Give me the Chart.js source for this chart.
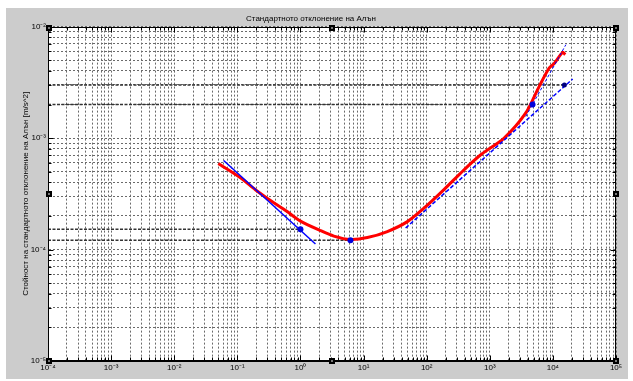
<!DOCTYPE html>
<html>
<head>
<meta charset="utf-8">
<title>Allan</title>
<script src="https://cdn.jsdelivr.net/npm/chart.js@4"></script>
<style>
  body { margin: 0; background: #fff; }
  #caja { position: absolute; left: 6px; top: 8px; width: 622px; height: 371px; background: #cccccc; }
</style>
</head>
<body>
<div id="caja"><canvas id="grafico" width="622" height="371"></canvas></div>
<script>
// datos: tau en segundos, sigma en m/s^2
const tauAllan = [0.05, 0.112, 0.193, 0.296, 0.615, 1.0, 2.07, 3.38, 6.2, 11.5, 23.8, 49.5, 90.6, 188, 391, 720, 1690, 3720, 6070, 8730, 10490, 14270, 15700];
const sigmaAllan = [5.9e-4, 4.4e-4, 3.44e-4, 2.89e-4, 2.19e-4, 1.8e-4, 1.48e-4, 1.32e-4, 1.23e-4, 1.28e-4, 1.45e-4, 1.78e-4, 2.35e-4, 3.45e-4, 5.19e-4, 7.08e-4, 1.0e-3, 1.68e-3, 2.91e-3, 4.25e-3, 4.66e-3, 5.87e-3, 5.6e-3];

// rectas de ajuste (pendiente -1/2, +1/2 y +1)
const tauArw = [0.0607, 1.73];
const sigmaArw = [6.29e-4, 1.12e-4];
const tauRaiz = [46.4, 20600];
const sigmaRaiz = [1.56e-4, 3.39e-3];
const tauRampa = [3720, 16070];
const sigmaRampa = [1.56e-3, 6.89e-3];

// puntos marcados y sus lineas horizontales
const tauPuntos = [1, 6.2, 4760, 15200];
const sigmaPuntos = [1.52e-4, 1.21e-4, 2e-3, 3e-3];
const colorPuntos = ["#0000dd", "#0000dd", "#0000dd", "#000080"];

const ejeXMin = 1e-4, ejeXMax = 1e5;
const ejeYMin = 1e-5, ejeYMax = 1e-2;
const titulo = "Стандартното отклонение на Алън";
const tituloY = "Стойност на стандартното отклонение на Алън [m/s^2]";

const fuente = "'Liberation Sans', Arial, sans-serif";

const unir = (xs, ys) => xs.map((x, i) => ({ x: x, y: ys[i] }));

const esPotencia = (v) => {
  const e = Math.log10(v);
  return Math.abs(e - Math.round(e)) < 1e-6;
};

// exponente como superindice: 10⁻⁴
const sup = { "-": "⁻", "0": "⁰", "1": "¹", "2": "²", "3": "³", "4": "⁴", "5": "⁵", "6": "⁶", "7": "⁷", "8": "⁸", "9": "⁹" };
const etiquetaPotencia = (v) => "10" + String(Math.round(Math.log10(v))).split("").map((c) => sup[c]).join("");

// todas las marcas 1..9 de cada decada
const ticksLog = (min, max) => {
  const lista = [];
  for (let e = Math.round(Math.log10(min)); e < Math.round(Math.log10(max)); e++) {
    for (let m = 1; m <= 9; m++) lista.push({ value: m * Math.pow(10, e) });
  }
  lista.push({ value: max });
  return lista;
};

const datasets = [
  {
    data: unir(tauAllan, sigmaAllan),
    showLine: true, borderColor: "#ff0000", borderWidth: 3, pointRadius: 0,
    tension: 0.25, order: 5,
  },
  {
    data: unir(tauArw, sigmaArw),
    showLine: true, borderColor: "#0000ff", borderWidth: 1.5, pointRadius: 0, order: 3,
  },
  {
    data: unir(tauRaiz, sigmaRaiz),
    showLine: true, borderColor: "#0000ff", borderWidth: 1.5, borderDash: [4, 2], pointRadius: 0, order: 3,
  },
  {
    data: unir(tauRampa, sigmaRampa),
    showLine: true, borderColor: "#0000ff", borderWidth: 1, borderDash: [3, 2], pointRadius: 0, order: 3,
  },
];

tauPuntos.forEach((t, i) => {
  datasets.push({
    data: [{ x: ejeXMin, y: sigmaPuntos[i] }, { x: t, y: sigmaPuntos[i] }],
    showLine: true, borderColor: "#333333", borderWidth: 1.5, borderDash: [3, 1.5], pointRadius: 0, order: 6,
  });
});

datasets.push({
  data: unir(tauPuntos, sigmaPuntos),
  showLine: false, pointRadius: [3, 3, 3, 2.5], pointBackgroundColor: colorPuntos,
  pointBorderColor: colorPuntos, pointBorderWidth: 0, order: 1,
});

// fondo blanco, caja, marcas hacia adentro y los cuadraditos de seleccion
const marco = {
  id: "marco",
  beforeDraw(chart) {
    const { ctx, chartArea: a } = chart;
    ctx.save();
    ctx.fillStyle = "#ffffff";
    ctx.fillRect(a.left, a.top, a.right - a.left, a.bottom - a.top);
    ctx.restore();
  },
  afterDraw(chart) {
    const { ctx, chartArea: a, scales } = chart;
    const L = Math.round(a.left) + 0.5, R = Math.round(a.right) - 0.5;
    const T = Math.round(a.top) + 0.5, B = Math.round(a.bottom) - 0.5;
    ctx.save();
    ctx.strokeStyle = "#000";
    ctx.lineWidth = 1;
    ctx.beginPath();
    scales.x.ticks.forEach((t) => {
      const px = Math.round(scales.x.getPixelForValue(t.value)) + 0.5;
      const l = esPotencia(t.value) ? 5 : 3;
      ctx.moveTo(px, B); ctx.lineTo(px, B - l);
      ctx.moveTo(px, T); ctx.lineTo(px, T + l);
    });
    scales.y.ticks.forEach((t) => {
      const py = Math.round(scales.y.getPixelForValue(t.value)) + 0.5;
      const l = esPotencia(t.value) ? 5 : 3;
      ctx.moveTo(L, py); ctx.lineTo(L + l, py);
      ctx.moveTo(R, py); ctx.lineTo(R - l, py);
    });
    ctx.stroke();
    ctx.strokeRect(L, T, R - L, B - T);
    const mx = (L + R) / 2, my = (T + B) / 2;
    [[L, T], [mx, T], [R, T], [L, my], [R, my], [L, B], [mx, B], [R, B]].forEach(([x, y]) => {
      ctx.fillStyle = "#000";
      ctx.fillRect(Math.round(x - 3), Math.round(y - 3), 6, 6);
      ctx.fillStyle = "#777";
      ctx.fillRect(Math.round(x - 1), Math.round(y - 1), 2, 2);
    });
    ctx.restore();
  },
};

const ejeComun = (min, max) => ({
  type: "logarithmic",
  min: min,
  max: max,
  afterBuildTicks: (s) => { s.ticks = ticksLog(min, max); },
  grid: { color: "#6a6a6a", lineWidth: 1, drawTicks: false },
  border: { color: "#000", width: 1, dash: [2, 2] },
  ticks: {
    autoSkip: false, maxRotation: 0, padding: 2, color: "#000",
    font: { family: fuente, size: 8 },
    callback: (v) => (esPotencia(v) ? etiquetaPotencia(v) : ""),
  },
});

const ejeX = ejeComun(ejeXMin, ejeXMax);
ejeX.afterFit = (s) => { s.height = 18; };

const ejeY = ejeComun(ejeYMin, ejeYMax);
ejeY.afterFit = (s) => { s.width = 42; };
ejeY.title = { display: true, text: tituloY, color: "#000", font: { family: fuente, size: 8 }, padding: { top: 15, bottom: 0 } };

new Chart(document.getElementById("grafico"), {
  type: "scatter",
  data: { datasets: datasets },
  options: {
    responsive: false,
    animation: false,
    devicePixelRatio: 1,
    layout: { padding: { left: 0, right: 12, top: 0, bottom: 0 } },
    plugins: {
      legend: { display: false },
      tooltip: { enabled: false },
      title: {
        display: true, text: titulo, color: "#000",
        font: { family: fuente, size: 8, weight: "normal" },
        padding: { top: 6, bottom: 3 },
      },
    },
    scales: { x: ejeX, y: ejeY },
  },
  plugins: [marco],
});
</script>
</body>
</html>
